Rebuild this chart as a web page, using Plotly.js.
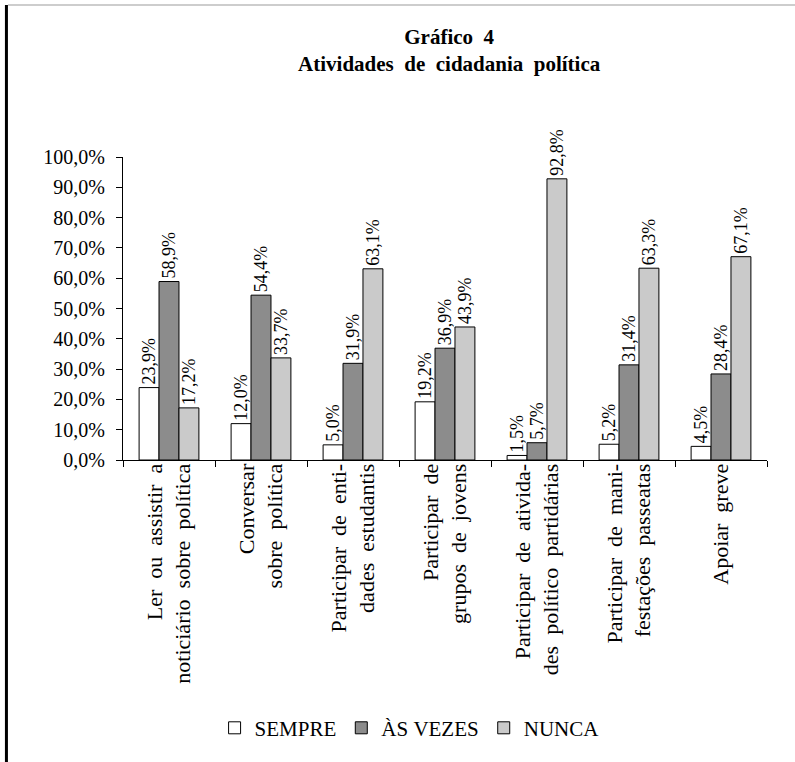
<!DOCTYPE html>
<html>
<head>
<meta charset="utf-8">
<script src="https://cdn.plot.ly/plotly-3.0.1.min.js"></script>
<style>
html,body{margin:0;padding:0;background:#fff;}
#chart{width:795px;height:762px;}
</style>
</head>
<body>
<div id="chart"></div>
<script>
const W = " \u00A0"; // wide word gap as in the scanned original
const categories = [
  ["Ler", "ou", "assistir", "a<br>noticiário", "sobre", "política"].join(W),
  ["Conversar<br>sobre", "política"].join(W),
  ["Participar", "de", "enti-<br>dades", "estudantis"].join(W),
  ["Participar", "de<br>grupos", "de", "jovens"].join(W),
  ["Participar", "de", "ativida-<br>des", "político", "partidárias"].join(W),
  ["Participar", "de", "mani-<br>festações", "passeatas"].join(W),
  ["Apoiar", "greve"].join(W)
];
const seriesNames = ["SEMPRE", "ÀS\u00A0VEZES", "NUNCA"];
const sempre = [23.9, 12.0, 5.0, 19.2, 1.5, 5.2, 4.5];
const asVezes = [58.9, 54.4, 31.9, 36.9, 5.7, 31.4, 28.4];
const nunca = [17.2, 33.7, 63.1, 43.9, 92.8, 63.3, 67.1];
const yTicks = [0, 10, 20, 30, 40, 50, 60, 70, 80, 90, 100];
const yTickLabels = ["0,0%", "10,0%", "20,0%", "30,0%", "40,0%", "50,0%",
                     "60,0%", "70,0%", "80,0%", "90,0%", "100,0%"];
const titleLines = ["Gráfico" + W + "4", ["Atividades", "de", "cidadania", "política"].join(W)];

const serif = "'Liberation Serif', 'DejaVu Serif', serif";
const colors = ["#ffffff", "#8c8c8c", "#cacaca"];
const values = [sempre, asVezes, nunca];

const traces = values.map((v, i) => ({
  type: "bar",
  name: seriesNames[i],
  x: categories,
  y: v,
  marker: {color: colors[i], line: {color: "#000", width: 1}},
  texttemplate: "%{y:.1f}%",
  textposition: "outside",
  textangle: -90,
  constraintext: "none",
  cliponaxis: false,
  textfont: {family: serif, size: 18, color: "#000"},
  hoverinfo: "skip"
}));

const layout = {
  width: 795,
  height: 762,
  paper_bgcolor: "#fff",
  plot_bgcolor: "#fff",
  separators: ",.",
  margin: {l: 123, r: 28, t: 157, b: 302, pad: 0},
  barmode: "group",
  bargap: 0.35,
  bargroupgap: 0,
  font: {family: serif, color: "#000"},
  title: {
    text: titleLines.join("<br>"),
    font: {family: serif, size: 21, color: "#000", weight: "bold"},
    xref: "container", x: 0.565, xanchor: "center",
    yref: "container", y: 0.942, yanchor: "top"
  },
  xaxis: {
    type: "category",
    showline: true, linecolor: "#000", linewidth: 1,
    ticks: "outside", tickson: "boundaries", ticklen: 6, tickcolor: "#000",
    tickangle: -90,
    ticklabelstandoff: -6,
    tickfont: {family: serif, size: 22, color: "#000"},
    showgrid: false, zeroline: false, fixedrange: true
  },
  yaxis: {
    range: [0, 100], autorange: false,
    tickmode: "array",
    tickvals: yTicks,
    ticktext: yTickLabels,
    showline: true, linecolor: "#000", linewidth: 1,
    ticks: "outside", ticklen: 6, tickcolor: "#000",
    ticklabelstandoff: 7,
    tickfont: {family: serif, size: 20, color: "#000"},
    showgrid: false, zeroline: false, fixedrange: true
  },
  showlegend: true,
  legend: {
    orientation: "h",
    x: 0.445, xanchor: "center",
    y: -0.885, yanchor: "middle",
    font: {family: serif, size: 21, color: "#000"},
    itemclick: false, itemdoubleclick: false
  },
  shapes: [
    {type: "line", xref: "paper", yref: "paper",
     x0: -0.181, x1: -0.181, y0: 1.502, y1: -1.0,
     line: {color: "#000", width: 3}},
    {type: "line", xref: "paper", yref: "paper",
     x0: -0.1786, x1: 1.05, y0: 1.502, y1: 1.502,
     line: {color: "#bdbdbd", width: 1.5}}
  ]
};

Plotly.newPlot("chart", traces, layout, {displayModeBar: false, staticPlot: true});
</script>
</body>
</html>
